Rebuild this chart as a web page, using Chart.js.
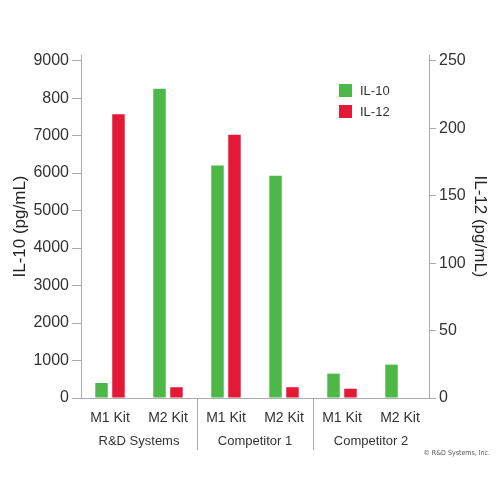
<!DOCTYPE html>
<html lang="en">
<head>
    <meta charset="UTF-8">
    <title>IL-10 / IL-12</title>
    <style>
        html, body {
            margin: 0;
            padding: 0;
            background: #fff;
        }
        .chart-box {
            width: 500px;
            height: 500px;
        }
    </style>
    <script src="https://cdn.jsdelivr.net/npm/chart.js@4.4.1/dist/chart.umd.min.js"></script>
</head>
<body>
    <div class="chart-box">
        <canvas id="kitChart" width="500" height="500"></canvas>
    </div>

    <script>
        const categories = ['M1 Kit', 'M2 Kit', 'M1 Kit', 'M2 Kit', 'M1 Kit', 'M2 Kit'];
        const groups = ['R&D Systems', 'Competitor 1', 'Competitor 2'];
        const il10Values = [400, 8250, 6200, 5930, 650, 890];
        const il12Values = [210.5, 8, 195.3, 8, 6.9, null];
        // left axis labels as printed (8000 appears as "800")
        const leftTickValues = [0, 1000, 2000, 3000, 4000, 5000, 6000, 7000, 8000, 9000];
        const leftTickLabels = ['0', '1000', '2000', '3000', '4000', '5000', '6000', '7000', '800', '9000'];
        const rightTickLabels = ['0', '50', '100', '150', '200', '250'];

        const GREEN = '#4db848';
        const RED = '#e31937';
        const AXIS = '#aaaaaa';
        const FONT = '"Liberation Sans", Arial, sans-serif';

        // group labels, separators, legend and copyright
        const extrasPlugin = {
            id: 'extras',
            afterDraw(chart) {
                const ctx = chart.ctx;
                const x = chart.scales.x;
                const area = chart.chartArea;
                ctx.save();

                ctx.strokeStyle = AXIS;
                ctx.lineWidth = 1;
                for (let g = 1; g < groups.length; g++) {
                    const sx = Math.round((x.getPixelForValue(g * 2 - 1) + x.getPixelForValue(g * 2)) / 2) + 0.5;
                    ctx.beginPath();
                    ctx.moveTo(sx, area.bottom);
                    ctx.lineTo(sx, area.bottom + 52);
                    ctx.stroke();
                }

                ctx.fillStyle = '#333';
                ctx.font = '13px ' + FONT;
                ctx.textAlign = 'center';
                ctx.textBaseline = 'alphabetic';
                groups.forEach((name, g) => {
                    const cx = (x.getPixelForValue(g * 2) + x.getPixelForValue(g * 2 + 1)) / 2;
                    ctx.fillText(name, cx, area.bottom + 47);
                });

                // legend inside the plot
                ctx.textAlign = 'left';
                ctx.textBaseline = 'middle';
                chart.data.datasets.forEach((ds, i) => {
                    const ly = 84 + i * 21;
                    ctx.fillStyle = ds.backgroundColor;
                    ctx.fillRect(339, ly, 13, 13);
                    ctx.fillStyle = '#333';
                    ctx.fillText(ds.label, 360, ly + 7);
                });

                ctx.font = '7px "DejaVu Sans Condensed", ' + FONT;
                ctx.fillStyle = '#555';
                ctx.textAlign = 'right';
                ctx.fillText('\u00a9 R&D Systems, Inc.', 490, 453);
                ctx.restore();
            }
        };

        function drawChart() {
            const ctx = document.getElementById('kitChart').getContext('2d');

            new Chart(ctx, {
                type: 'bar',
                data: {
                    labels: categories,
                    datasets: [{
                        label: 'IL-10',
                        data: il10Values,
                        backgroundColor: GREEN,
                        yAxisID: 'y',
                        categoryPercentage: 0.585,
                        barPercentage: 0.735
                    }, {
                        label: 'IL-12',
                        data: il12Values,
                        backgroundColor: RED,
                        yAxisID: 'y1',
                        categoryPercentage: 0.585,
                        barPercentage: 0.735
                    }]
                },
                options: {
                    responsive: false,
                    animation: false,
                    layout: {
                        padding: { top: 55, left: 10, right: 10, bottom: 0 }
                    },
                    plugins: {
                        legend: { display: false },
                        tooltip: { enabled: false }
                    },
                    scales: {
                        x: {
                            grid: { display: false, drawTicks: false },
                            border: { display: true, color: AXIS },
                            ticks: {
                                color: '#333',
                                font: { family: FONT, size: 14 },
                                padding: 12,
                                maxRotation: 0
                            },
                            afterFit(scale) { scale.height = 102; }
                        },
                        y: {
                            position: 'left',
                            min: 0,
                            max: 9150,
                            afterBuildTicks(scale) {
                                scale.ticks = leftTickValues.map(v => ({ value: v }));
                            },
                            ticks: {
                                color: '#333',
                                font: { family: FONT, size: 16 },
                                padding: 3,
                                callback: (v) => leftTickLabels[leftTickValues.indexOf(v)]
                            },
                            grid: { drawOnChartArea: false, color: AXIS, tickLength: 9 },
                            border: { color: AXIS },
                            title: {
                                display: true,
                                text: 'IL-10 (pg/mL)',
                                color: '#222',
                                font: { family: FONT, size: 17 },
                                padding: 0
                            },
                            afterFit(scale) { scale.width = 71; }
                        },
                        y1: {
                            position: 'right',
                            min: 0,
                            max: 254.4,
                            afterBuildTicks(scale) {
                                scale.ticks = rightTickLabels.map(t => ({ value: Number(t) }));
                            },
                            ticks: {
                                color: '#333',
                                font: { family: FONT, size: 16 },
                                padding: 3
                            },
                            grid: { drawOnChartArea: false, color: AXIS, tickLength: 7 },
                            border: { color: AXIS },
                            title: {
                                display: true,
                                text: 'IL-12 (pg/mL)',
                                color: '#222',
                                font: { family: FONT, size: 17 },
                                padding: 0
                            },
                            afterFit(scale) { scale.width = 61; }
                        }
                    }
                },
                plugins: [extrasPlugin]
            });
        }

        drawChart();
    </script>
</body>
</html>
